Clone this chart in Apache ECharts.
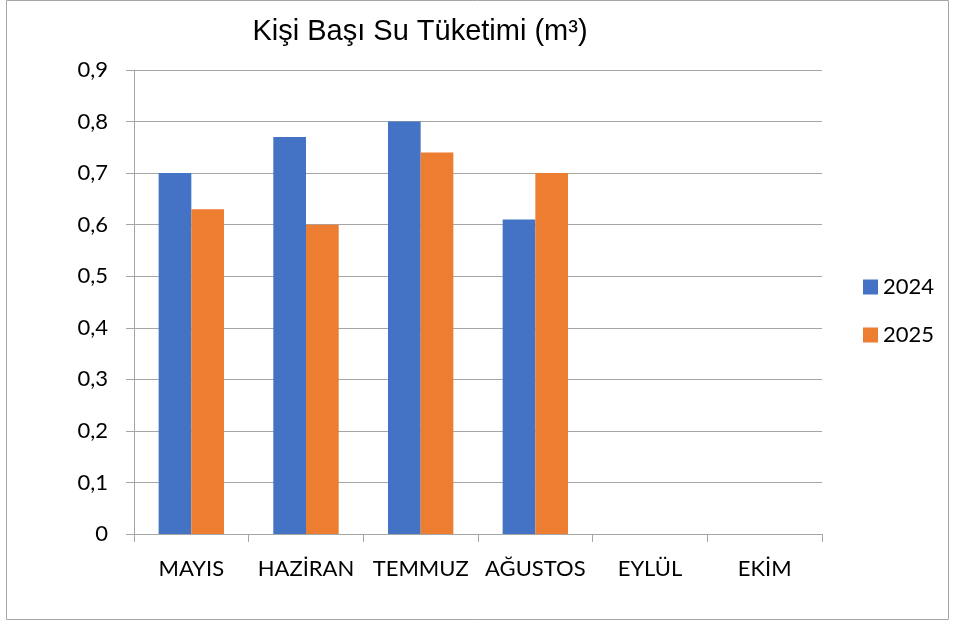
<!DOCTYPE html>
<html>
<head>
<meta charset="utf-8">
<title>Kişi Başı Su Tüketimi</title>
<script src="https://cdn.jsdelivr.net/npm/echarts@6/dist/echarts.min.js"></script>
<style>
    html, body { margin: 0; padding: 0; background: #fff; }
    #chart { width: 956px; height: 624px; }
</style>
</head>
<body>
<div id="chart"></div>
<script>
// aylar ve yıllara göre kişi başı su tüketimi (m³)
var months = ['MAYIS', 'HAZİRAN', 'TEMMUZ', 'AĞUSTOS', 'EYLÜL', 'EKİM'];
var years = ['2024', '2025'];
var values2024 = [0.70, 0.77, 0.80, 0.61, null, null];
var values2025 = [0.63, 0.60, 0.74, 0.70, null, null];

var labelFont = 'Lato, "Open Sans", sans-serif';

var chart = echarts.init(document.getElementById('chart'));

var option = {
    animation: false,
    color: ['#4472C4', '#ED7D31'],
    title: {
        text: 'Kişi Başı Su Tüketimi (m³)',
        left: 415,
        top: 12,
        textAlign: 'center',
        textStyle: {
            fontFamily: '"Liberation Sans", Arial, sans-serif',
            fontSize: 29,
            fontWeight: 'normal',
            color: '#000'
        }
    },
    legend: {
        orient: 'vertical',
        left: 858,
        top: 271,
        itemWidth: 15,
        itemHeight: 15,
        itemGap: 26,
        icon: 'rect',
        data: years,
        textStyle: { fontFamily: labelFont, fontSize: 22, color: '#000' }
    },
    grid: {
        left: 134,
        right: 134,
        top: 70,
        bottom: 90
    },
    xAxis: {
        type: 'category',
        data: months,
        axisLine: { lineStyle: { color: '#a6a6a6', width: 1 } },
        axisTick: { show: true, length: 8, lineStyle: { color: '#a6a6a6' } },
        axisLabel: {
            fontFamily: labelFont,
            fontSize: 22,
            color: '#000',
            margin: 24,
            interval: 0
        }
    },
    yAxis: {
        type: 'value',
        min: 0,
        max: 0.9,
        interval: 0.1,
        axisLine: { show: true, lineStyle: { color: '#a6a6a6', width: 1 } },
        axisTick: { show: true, length: 8, lineStyle: { color: '#a6a6a6' } },
        splitLine: { lineStyle: { color: '#a6a6a6', width: 1 } },
        axisLabel: {
            fontFamily: labelFont,
            fontSize: 22,
            color: '#000',
            margin: 26,
            formatter: function (v) {
                if (v === 0) return '0';
                return v.toFixed(1).replace('.', ',');
            }
        }
    },
    series: [
        {
            name: years[0],
            type: 'bar',
            data: values2024,
            barGap: '0%',
            barCategoryGap: '43%'
        },
        {
            name: years[1],
            type: 'bar',
            data: values2025,
            barGap: '0%',
            barCategoryGap: '43%'
        }
    ],
    graphic: [
        {
            type: 'rect',
            shape: { x: 6.5, y: 0.5, width: 942, height: 619 },
            style: { fill: 'none', stroke: '#a6a6a6', lineWidth: 1 },
            silent: true
        }
    ]
};

chart.setOption(option);
</script>
</body>
</html>
